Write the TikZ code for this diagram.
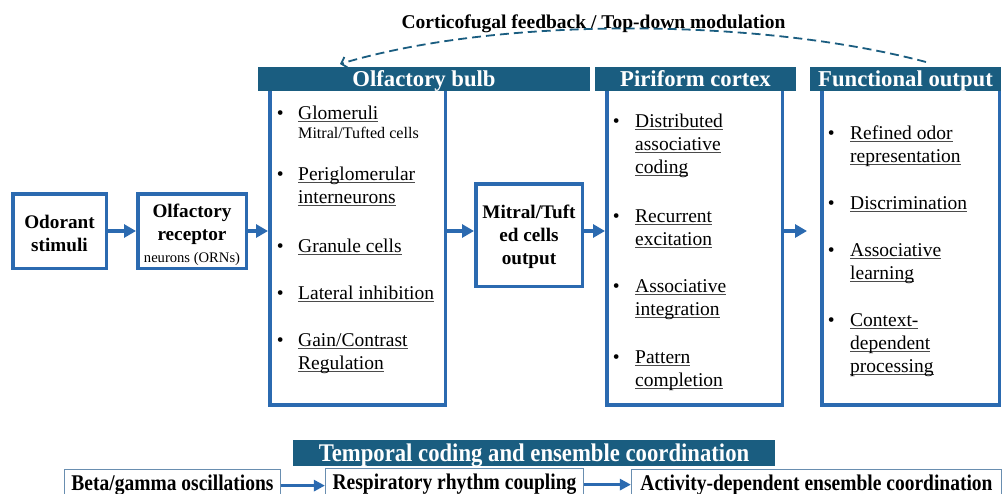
\documentclass[tikz,border=0pt]{standalone}
\usepackage{fontspec}
\setmainfont{Liberation Serif}
\usetikzlibrary{arrows.meta}
\definecolor{hdr}{RGB}{26,93,128}
\definecolor{boxblue}{RGB}{43,106,176}
\definecolor{thinbox}{RGB}{105,142,176}
\definecolor{ulgray}{RGB}{75,75,75}
% underline at a fixed distance below the baseline
\newsavebox\ulbox
\newcommand\ulx[1]{\sbox\ulbox{#1}\leavevmode\rlap{\textcolor{ulgray}{\rule[-3.4pt]{\wd\ulbox}{1.1pt}}}\usebox\ulbox}
\begin{document}
\begin{tikzpicture}[x=1pt, y=-1pt,
  frame/.style={draw=boxblue, line width=3.5pt, inner sep=0pt, fill=white},
  hbar/.style={fill=hdr, inner sep=0pt, text=white, font=\fontsize{22.7}{26}\selectfont\bfseries, text height=15pt, text depth=0pt},
  btxt/.style={font=\fontsize{19.2}{23}\selectfont\bfseries, anchor=base, inner sep=0pt},
  itm/.style={font=\fontsize{19.5}{23}\selectfont, anchor=base west, inner sep=0pt},
  sml/.style={font=\fontsize{16.1}{19}\selectfont, anchor=base west, inner sep=0pt},
  smc/.style={font=\fontsize{14.6}{17}\selectfont, anchor=base, inner sep=0pt},
  flow/.style={draw=boxblue, line width=3.5pt, -{Triangle[length=12pt,width=13pt]}},
  tbox/.style={draw=thinbox, line width=1.2pt, fill=white, anchor=north, inner xsep=0pt, inner ysep=6pt, minimum height=32pt, text height=14pt, text depth=4pt, font=\fontsize{19.5}{23}\selectfont\bfseries},
  bflow/.style={draw=boxblue, line width=2.8pt, -{Triangle[length=11pt,width=11pt]}},
  fb/.style={draw=hdr, line width=1.8pt, dash pattern=on 9pt off 5pt, -{Straight Barb[length=5pt,width=11pt]}}
]
\clip (0,0) rectangle (1003,493);
\fill[white] (0,0) rectangle (1003,493);

% title of the feedback loop
\node[btxt, font=\fontsize{19.5}{23}\selectfont\bfseries] (fbtitle) at (593.5,28) {Corticofugal feedback / Top-down modulation};

% input boxes
\node[frame, minimum width=93.5pt, minimum height=74.5pt] (odor) at (59.5,231) {};
\node[btxt] (odorA) at (59.5,228) {Odorant};
\node[btxt] (odorB) at (59.5,251) {stimuli};

\node[frame, minimum width=108.5pt, minimum height=74.5pt] (rec) at (192,231) {};
\node[btxt] (recA) at (192,217) {Olfactory};
\node[btxt] (recB) at (192,240) {receptor};
\node[smc] (recC) at (192,262) {neurons (ORNs)};

% stage frames
\node[frame, minimum width=175.5pt, minimum height=316pt] (ob) at (357.5,247) {};
\node[frame, minimum width=175.5pt, minimum height=316pt] (pc) at (694.5,247) {};
\node[frame, minimum width=177.5pt, minimum height=316pt] (fo) at (910.5,247) {};

\node[frame, minimum width=106.5pt, minimum height=102.5pt] (mt) at (529,235) {};
\node[btxt] (mtA) at (529,218) {Mitral/Tuft};
\node[btxt] (mtB) at (529,241) {ed cells};
\node[btxt] (mtC) at (529,264) {output};

% stage headers
\node[hbar, minimum width=332pt, minimum height=24pt] (obh) at (424,79) {Olfactory bulb};
\node[hbar, minimum width=201pt, minimum height=24pt] (pch) at (695.5,79) {Piriform cortex};
\node[hbar, minimum width=191pt, minimum height=24pt] (foh) at (905.5,79) {Functional output};

% olfactory bulb items
\node[itm] (b1) at (276.6,119) {\textbullet};
\node[itm] (ob1) at (298,119) {\ulx{Glomeruli}};
\node[sml] (ob1s) at (298,138) {Mitral/Tufted cells};
\node[itm] (b2) at (276.6,180) {\textbullet};
\node[itm] (ob2) at (298,180) {\ulx{Periglomerular}};
\node[itm] (ob2b) at (298,203) {\ulx{interneurons}};
\node[itm] (b3) at (276.6,252) {\textbullet};
\node[itm] (ob3) at (298,252) {\ulx{Granule cells}};
\node[itm] (b4) at (276.6,299) {\textbullet};
\node[itm] (ob4) at (298,299) {\ulx{Lateral inhibition}};
\node[itm] (b5) at (276.6,346) {\textbullet};
\node[itm] (ob5) at (298,346) {\ulx{Gain/Contrast}};
\node[itm] (ob5b) at (298,369) {\ulx{Regulation}};

% piriform cortex items
\node[itm] (c1) at (612.6,127) {\textbullet};
\node[itm] (pc1) at (635,127) {\ulx{Distributed}};
\node[itm] (pc1b) at (635,150) {\ulx{associative}};
\node[itm] (pc1c) at (635,173) {\ulx{coding}};
\node[itm] (c2) at (612.6,222) {\textbullet};
\node[itm] (pc2) at (635,222) {\ulx{Recurrent}};
\node[itm] (pc2b) at (635,245) {\ulx{excitation}};
\node[itm] (c3) at (612.6,292) {\textbullet};
\node[itm] (pc3) at (635,292) {\ulx{Associative}};
\node[itm] (pc3b) at (635,315) {\ulx{integration}};
\node[itm] (c4) at (612.6,363) {\textbullet};
\node[itm] (pc4) at (635,363) {\ulx{Pattern}};
\node[itm] (pc4b) at (635,386) {\ulx{completion}};

% functional output items
\node[itm] (f1) at (827.6,139) {\textbullet};
\node[itm] (fo1) at (850,139) {\ulx{Refined odor}};
\node[itm] (fo1b) at (850,162) {\ulx{representation}};
\node[itm] (f2) at (827.6,209) {\textbullet};
\node[itm] (fo2) at (850,209) {\ulx{Discrimination}};
\node[itm] (f3) at (827.6,256) {\textbullet};
\node[itm] (fo3) at (850,256) {\ulx{Associative}};
\node[itm] (fo3b) at (850,279) {\ulx{learning}};
\node[itm] (f4) at (827.6,326) {\textbullet};
\node[itm] (fo4) at (850,326) {\ulx{Context-}};
\node[itm] (fo4b) at (850,349) {\ulx{dependent}};
\node[itm] (fo4c) at (850,372) {\ulx{processing}};

% main flow
\draw[flow] (odor.east) -- (rec.west);
\draw[flow] (rec.east) -- (rec.east -| ob.west);
\draw[flow] (rec.east -| ob.east) -- (rec.east -| mt.west);
\draw[flow] (rec.east -| mt.east) -- (rec.east -| pc.west);
\draw[flow, shorten >=13pt] (rec.east -| pc.east) -- (rec.east -| fo.west);

% feedback loop
\coordinate (fbFrom) at (926,62);
\coordinate (fbTo) at (340,64);
\draw[fb] (fbFrom) .. controls (760,18) and (500,16) .. (fbTo);

% temporal coding row
\node[hbar, minimum width=482pt, minimum height=26pt, text height=17pt] (tch) at (534,453) {\scalebox{1}[1.12]{Temporal coding and ensemble coordination}};
\node[tbox, minimum width=216pt] (beta) at (172.5,469) {\scalebox{1}[1.15]{Beta/gamma oscillations}};
\node[tbox, minimum width=258pt] (resp) at (454.5,468) {\scalebox{1}[1.15]{Respiratory rhythm coupling}};
\node[tbox, minimum width=370pt] (act) at (816.5,469) {\scalebox{1}[1.15]{Activity-dependent ensemble coordination}};
\draw[bflow] (beta.east) -- (beta.east -| resp.west);
\draw[bflow] (resp.east) -- (resp.east -| act.west);
\end{tikzpicture}
\end{document}
